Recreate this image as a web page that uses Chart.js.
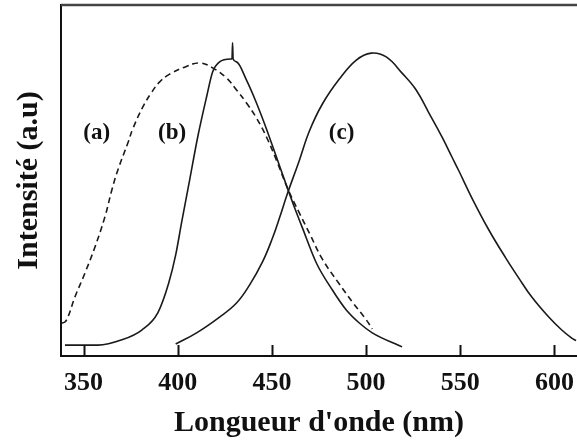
<!DOCTYPE html>
<html>
<head>
<meta charset="utf-8">
<script src="https://cdn.jsdelivr.net/npm/chart.js@4/dist/chart.umd.min.js"></script>
<style>
  html, body { margin: 0; padding: 0; background: #fff; }
  #wrap { width: 577px; height: 441px; }
</style>
</head>
<body>
<div id="wrap"><canvas id="spectres" width="577" height="441"></canvas></div>
<script>
// Tick labels of the wavelength axis (nm)
const wavelengthTicks = [350, 400, 450, 500, 550, 600];

// (a) dashed curve
const aWl = [338.5, 340.1, 341.7, 345.4, 350.7, 356.0, 361.3, 365.0, 368.2, 373.5, 376.1, 381.4, 386.2, 390.4, 395.7,
             403.7, 411.6, 418.5, 425.9, 431.2, 436.5, 441.8, 447.1, 452.4, 458.2, 464.6, 469.9, 476.8, 485.8, 492.7,
             500.1, 503.3];
const aInt = [9.4, 9.7, 11.1, 16.8, 23.6, 31.0, 39.6, 47.3, 53.0, 60.7, 64.7, 70.9, 75.2, 78.1, 80.3,
              82.3, 83.5, 82.1, 79.2, 75.8, 72.1, 67.8, 62.4, 55.8, 47.9, 40.7, 35.0, 27.6, 20.5, 15.4,
              10.3, 7.7];

// (b) solid curve with the small spike near 429 nm
const bWl = [340.1, 357.6, 370.3, 380.9, 389.4, 395.2, 398.9, 402.1, 406.3, 410.6, 415.3, 418.5, 422.2, 428.0, 428.8,
             429.1, 429.4, 431.2, 436.5, 441.8, 447.1, 452.4, 458.2, 462.5, 466.2, 473.6, 482.1, 489.5, 496.4,
             503.3, 519.1];
const bInt = [3.1, 3.1, 4.6, 7.4, 12.3, 20.8, 28.8, 38.2, 50.1, 62.4, 73.8, 80.9, 83.8, 84.6, 84.6,
              89.2, 84.6, 83.8, 78.6, 72.1, 64.7, 56.7, 47.9, 41.6, 36.5, 26.5, 18.8, 13.1, 9.4,
              6.6, 2.6];

// (c) solid curve
const cWl = [398.9, 410.0, 422.2, 431.2, 438.1, 445.0, 450.3, 454.0, 458.2, 464.6, 469.9, 476.8, 485.8, 494.8, 502.7,
             510.7, 519.1, 526.6, 533.4, 540.3, 545.6, 549.3, 556.2, 565.2, 574.2, 581.1, 588.0, 597.0, 603.9, 609.2,
             611.5];
const cInt = [3.4, 6.6, 11.1, 15.1, 20.2, 26.8, 33.6, 39.3, 46.2, 55.8, 64.1, 71.8, 78.9, 84.3, 86.3,
              85.2, 80.6, 75.8, 69.2, 62.4, 56.7, 52.7, 45.0, 35.9, 27.9, 22.2, 16.8, 11.1, 7.4, 5.1,
              4.4];

// Curve labels and where they sit (wavelength, intensity)
const curveLabels = ['(a)', '(b)', '(c)'];
const labelWl = [357, 397, 487];
const labelInt = [63.5, 63.5, 63.5];

const serif = "'Liberation Serif', 'DejaVu Serif', serif";

function toPoints(xs, ys) {
    return xs.map((x, i) => ({ x: x, y: ys[i] }));
}

// Inner tick marks, top frame line and the (a)(b)(c) labels
const decorations = {
    id: 'decorations',
    afterDraw(chart) {
        const ctx = chart.ctx;
        const area = chart.chartArea;
        const xs = chart.scales.x;
        const ys = chart.scales.y;
        ctx.save();
        ctx.strokeStyle = '#111';
        ctx.lineWidth = 2;
        wavelengthTicks.forEach(v => {
            const px = Math.round(xs.getPixelForValue(v)) + 0.5;
            ctx.beginPath();
            ctx.moveTo(px, area.bottom);
            ctx.lineTo(px, area.bottom - 11);
            ctx.stroke();
        });
        ctx.strokeStyle = '#444';
        ctx.lineWidth = 2.5;
        ctx.beginPath();
        ctx.moveTo(area.left, area.top);
        ctx.lineTo(area.right, area.top);
        ctx.stroke();

        ctx.fillStyle = '#111';
        ctx.font = 'bold 23px ' + serif;
        ctx.textAlign = 'center';
        ctx.textBaseline = 'middle';
        curveLabels.forEach((t, i) => {
            ctx.fillText(t, xs.getPixelForValue(labelWl[i]), ys.getPixelForValue(labelInt[i]));
        });
        ctx.restore();
    }
};

const lineStyle = {
    borderColor: '#1a1a1a',
    borderWidth: 1.6,
    pointRadius: 0,
    fill: false,
    showLine: true
};

new Chart(document.getElementById('spectres').getContext('2d'), {
    type: 'scatter',
    data: {
        datasets: [
            Object.assign({ label: '(a)', data: toPoints(aWl, aInt), borderDash: [6, 4], tension: 0.4 }, lineStyle),
            Object.assign({ label: '(b)', data: toPoints(bWl, bInt), cubicInterpolationMode: 'monotone' }, lineStyle),
            Object.assign({ label: '(c)', data: toPoints(cWl, cInt), tension: 0.4 }, lineStyle)
        ]
    },
    options: {
        responsive: false,
        animation: false,
        layout: { padding: { top: 5, right: 0, left: 0, bottom: 0 } },
        plugins: {
            legend: { display: false },
            tooltip: { enabled: false }
        },
        scales: {
            x: {
                type: 'linear',
                min: 338,
                max: 612,
                afterBuildTicks: scale => {
                    scale.ticks = wavelengthTicks.map(v => ({ value: v }));
                },
                afterFit: scale => {
                    scale.height = 85;
                    scale.paddingLeft = 0;
                    scale.paddingRight = 0;
                },
                grid: { display: false, drawTicks: false },
                border: { display: true, color: '#111', width: 2 },
                ticks: {
                    autoSkip: false,
                    maxRotation: 0,
                    padding: 12,
                    color: '#111',
                    font: { family: serif, size: 26, weight: 'bold' }
                },
                title: {
                    display: true,
                    text: "Longueur d'onde (nm)",
                    color: '#111',
                    padding: { top: 0, bottom: 0 },
                    font: { family: serif, size: 30, weight: 'bold' }
                }
            },
            y: {
                min: 0,
                max: 100,
                afterFit: scale => { scale.width = 61; },
                grid: { display: false, drawTicks: false },
                border: { display: true, color: '#111', width: 2 },
                ticks: { display: false },
                title: {
                    display: true,
                    text: 'Intensité (a.u)',
                    color: '#111',
                    padding: { top: 11, bottom: 0 },
                    font: { family: serif, size: 30, weight: 'bold' }
                }
            }
        }
    },
    plugins: [decorations]
});
</script>
</body>
</html>
